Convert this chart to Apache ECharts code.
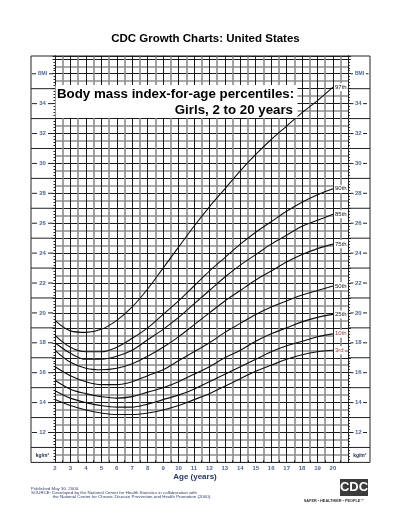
<!DOCTYPE html>
<html><head><meta charset="utf-8">
<script src="https://cdn.jsdelivr.net/npm/echarts@6/dist/echarts.min.js"></script>
<style>html,body{margin:0;padding:0;background:#fff}#c{width:395px;height:522px}</style>
</head><body><div id="c"></div>
<script>
// ---- data ----
const ages = [2,3,4,5,6,7,8,9,10,11,12,13,14,15,16,17,18,19,20];
const p97 = [19.5,18.8,18.7,18.9,19.5,20.4,21.6,23.0,24.4,25.8,27.1,28.3,29.5,30.6,31.6,32.5,33.4,34.2,35.1];
const p90 = [18.5,17.7,17.4,17.4,17.7,18.3,19.0,19.9,20.8,21.8,22.8,23.7,24.6,25.4,26.1,26.8,27.4,27.9,28.3];
const p85 = [18.0,17.3,16.9,16.9,17.1,17.5,18.2,18.9,19.7,20.6,21.5,22.4,23.2,23.9,24.6,25.2,25.8,26.2,26.6];
const p75 = [17.5,16.7,16.3,16.2,16.3,16.6,17.1,17.7,18.4,19.2,20.0,20.8,21.5,22.2,22.8,23.4,23.9,24.3,24.6];
const p50 = [16.4,15.8,15.4,15.2,15.2,15.4,15.8,16.2,16.8,17.4,18.0,18.7,19.3,19.9,20.4,20.8,21.2,21.5,21.8];
const p25 = [15.5,14.9,14.6,14.4,14.3,14.4,14.7,15.0,15.4,15.9,16.4,17.0,17.5,18.1,18.6,19.0,19.4,19.7,19.9];
const p10 = [14.8,14.3,14.0,13.8,13.7,13.7,13.9,14.2,14.5,14.9,15.4,15.9,16.4,16.9,17.4,17.8,18.1,18.4,18.6];
const p3  = [14.2,13.8,13.5,13.3,13.2,13.2,13.3,13.5,13.8,14.2,14.6,15.1,15.6,16.1,16.5,16.9,17.2,17.4,17.5];
const percentileNames = ['97th','90th','85th','75th','50th','25th','10th','3rd'];
const percentileValues = [p97,p90,p85,p75,p50,p25,p10,p3];
const xTickLabels = [2,3,4,5,6,7,8,9,10,11,12,13,14,15,16,17,18,19,20];
const yTickLabels = [12,14,16,18,20,22,24,26,28,30,32,34];
const oddLevels = [11,13,15,17,19,21,23,25,27,29,31,33,35];

const FONT = "'Liberation Sans', Arial, Helvetica, sans-serif";
const BLUE = '#4e6797';
const labelColors = {'10th':'#9a3b3b','3rd':'#9a3b3b'};

const chart = echarts.init(document.getElementById('c'), null, {renderer:'canvas'});

const series = percentileNames.map((name, k) => ({
  name: name,
  type: 'line',
  smooth: 0.35,
  showSymbol: false,
  silent: true,
  data: ages.map((a, i) => [a, percentileValues[k][i]]),
  lineStyle: {color: '#111', width: 1.1},
  endLabel: {
    show: true, formatter: name, fontSize: 6, fontFamily: FONT,
    color: labelColors[name] || '#222', backgroundColor: '#fff',
    padding: [1, 1], distance: 1
  },
  z: 5
}));

const rulerAxis = (pos) => ({
  type: 'value', min: 10, max: 37.2, interval: 1, position: pos,
  axisLine: {show: true, lineStyle: {color: '#222', width: 1}},
  axisTick: {show: true, length: 2.5, lineStyle: {color: '#222'}},
  minorTick: {show: true, splitNumber: 5, length: 1.5, lineStyle: {color: '#222'}},
  axisLabel: {show: false},
  splitLine: {show: false}
});

const option = {
  animation: false,
  textStyle: {fontFamily: FONT},
  grid: {left: 55, right: 46.6, top: 55.8, bottom: 59.6},
  xAxis: {
    type: 'value', min: 2, max: 21, interval: 1,
    axisLine: {show: true, lineStyle: {color: '#222', width: 1}},
    axisTick: {show: true, inside: true, length: 2, lineStyle: {color: '#222'}},
    minorTick: {show: true, splitNumber: 2, length: 2, lineStyle: {color: '#222'}},
    axisLabel: {
      fontSize: 6, color: BLUE, margin: 3, fontWeight: 'bold',
      formatter: v => (xTickLabels.indexOf(v) >= 0 ? String(v) : '')
    },
    splitLine: {show: true, lineStyle: {color: '#1a1a1a', width: 1}},
    minorSplitLine: {show: true, lineStyle: {color: '#8c8c8c', width: 1.6}}
  },
  yAxis: [{
    type: 'value', min: 10, max: 37.2, interval: 1, position: 'left',
    axisLine: {show: false},
    axisTick: {show: false},
    minorTick: {show: false, splitNumber: 2},
    axisLabel: {show: false},
    splitLine: {show: true, lineStyle: {color: '#1a1a1a', width: 1}},
    minorSplitLine: {show: true, lineStyle: {color: '#8c8c8c', width: 1.6}}
  }, rulerAxis('left'), rulerAxis('right')],
  series: series
};
chart.setOption(option);

const yp = v => chart.convertToPixel({yAxisIndex: 0}, v);
const xp = v => chart.convertToPixel({xAxisIndex: 0}, v);
const gx0 = xp(2), gx1 = xp(21);
const boxL = 31, boxR = 370, boxT = 56, boxB = yp(10);
const g = [];
const line = (x1, y1, x2, y2, c, w) => ({type: 'line', shape: {x1, y1, x2, y2}, style: {stroke: c || '#222', lineWidth: w || 1}, z: 50, silent: true});
const text = (x, y, t, o) => ({type: 'text', x, y, style: Object.assign({text: t, fill: BLUE, font: 'bold 6px ' + FONT, textAlign: 'center', textVerticalAlign: 'middle'}, o || {}), z: 60, silent: true});

g.push({type: 'rect', shape: {x: boxL, y: boxT, width: boxR - boxL, height: boxB - boxT}, style: {fill: null, stroke: '#222', lineWidth: 1}, z: 50, silent: true});
oddLevels.forEach(v => {
  const y = yp(v);
  g.push(line(boxL, y, gx0, y));
  g.push(line(gx1, y, boxR, y));
});
yTickLabels.forEach(v => {
  const y = yp(v);
  g.push(line(32, y, 37, y)); g.push(line(48, y, 53, y));
  g.push(text(42.5, y, String(v)));
  g.push(line(350.5, y, 353.5, y)); g.push(line(363, y, 367, y));
  g.push(text(358.3, y, String(v)));
});
const yb = yp(36);
g.push(line(32, yb, 36, yb)); g.push(line(49, yb, 53, yb));
g.push(text(42.5, yb, 'BMI', {font: 'bold 5px ' + FONT}));
g.push(line(350.5, yb, 353, yb)); g.push(line(366, yb, 368.5, yb));
g.push(text(359.5, yb, 'BMI', {font: 'bold 5px ' + FONT}));
const yk = yp(10.45);
g.push(text(42.5, yk, 'kg/m²', {font: 'bold 5px ' + FONT, fill: '#1c2447'}));
g.push(text(359.8, yk, 'kg/m²', {font: 'bold 5px ' + FONT, fill: '#1c2447'}));

g.push({type: 'rect', shape: {x: gx0 + 0.5, y: 85, width: 242, height: 33}, style: {fill: '#fff'}, z: 55, silent: true});
g.push(text(57, 94, 'Body mass index-for-age percentiles:', {font: 'bold 13.3px ' + FONT, fill: '#000', textAlign: 'left'}));
g.push(text(293, 110.5, 'Girls, 2 to 20 years', {font: 'bold 13.3px ' + FONT, fill: '#000', textAlign: 'right'}));

g.push(text(205.5, 38.5, 'CDC Growth Charts: United States', {font: 'bold 11.5px ' + FONT, fill: '#000'}));
g.push(text(195, 477, 'Age (years)', {font: 'bold 8px ' + FONT, fill: '#25356a'}));
g.push(text(31, 488.3, 'Published May 30, 2000.', {font: '4.4px ' + FONT, fill: '#2e3a66', textAlign: 'left'}));
g.push(text(31, 492.8, 'SOURCE: Developed by the National Center for Health Statistics in collaboration with', {font: '4.4px ' + FONT, fill: '#2e3a66', textAlign: 'left'}));
g.push(text(52.7, 496.8, 'the National Center for Chronic Disease Prevention and Health Promotion (2000).', {font: '4.4px ' + FONT, fill: '#2e3a66', textAlign: 'left'}));
g.push({type: 'rect', shape: {x: 340, y: 479, width: 28, height: 17}, style: {fill: '#3b3b3b'}, z: 60, silent: true});
g.push(text(354, 487.8, 'CDC', {font: 'bold 13px ' + FONT, fill: '#fff'}));
g.push(text(334, 500.5, 'SAFER • HEALTHIER • PEOPLE™', {font: 'bold 3.8px ' + FONT, fill: '#333'}));

chart.setOption({graphic: {elements: g}});
</script>
</body></html>
